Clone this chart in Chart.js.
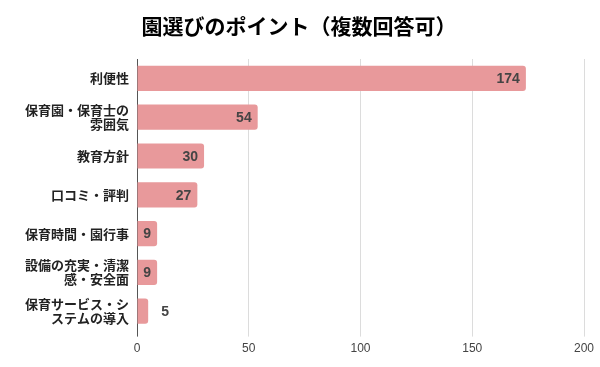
<!DOCTYPE html>
<html><head><meta charset="utf-8">
<script src="https://cdn.jsdelivr.net/npm/chart.js@4/dist/chart.umd.min.js"></script>
<style>html,body{margin:0;padding:0;background:#fff}canvas{display:block}</style>
</head><body>
<canvas id="c" width="600" height="367"></canvas>
<script>
const TITLE = '園選びのポイント（複数回答可）';
const categories = [
  '利便性',
  ['保育園・保育士の', '雰囲気'],
  '教育方針',
  '口コミ・評判',
  '保育時間・園行事',
  ['設備の充実・清潔', '感・安全面'],
  ['保育サービス・シ', 'ステムの導入']
];
const values = [174, 54, 30, 27, 9, 9, 5];
const xTicks = [0, 50, 100, 150, 200];

const CJK = '"Noto Sans CJK JP", "Noto Sans", sans-serif';
const LAT = '"Liberation Sans", Arial, sans-serif';

const titlePlugin = {
  id: 'titleText',
  afterDraw(chart) {
    const ctx = chart.ctx;
    ctx.save();
    ctx.font = 'bold 21px ' + CJK;
    ctx.fillStyle = '#000';
    ctx.textAlign = 'center';
    ctx.textBaseline = 'middle';
    ctx.fillText(TITLE, 299, 26);
    ctx.restore();
  }
};

const labelPlugin = {
  id: 'barLabels',
  afterDatasetsDraw(chart) {
    const ctx = chart.ctx;
    const meta = chart.getDatasetMeta(0);
    ctx.save();
    ctx.font = 'bold 14px ' + LAT;
    ctx.fillStyle = '#444';
    ctx.textBaseline = 'middle';
    meta.data.forEach((bar, i) => {
      const v = values[i];
      const txt = String(v);
      if (v >= 7) {
        ctx.textAlign = 'right';
        ctx.fillText(txt, bar.x - 6, bar.y + 1);
      } else {
        ctx.textAlign = 'left';
        ctx.fillText(txt, bar.x + 13, bar.y + 1);
      }
    });
    ctx.restore();
  }
};

new Chart(document.getElementById('c'), {
  type: 'bar',
  data: {
    labels: categories,
    datasets: [{
      data: values,
      backgroundColor: 'rgb(232,153,155)',
      borderRadius: 3,
      borderSkipped: 'start',
      barPercentage: 0.65,
      categoryPercentage: 1.0
    }]
  },
  options: {
    indexAxis: 'y',
    responsive: false,
    animation: false,
    layout: { padding: { top: 59, right: 16, bottom: 6, left: 0 } },
    plugins: { legend: { display: false }, title: { display: false }, tooltip: { enabled: false } },
    scales: {
      x: {
        min: 0, max: 200,
        afterBuildTicks(scale) { scale.ticks = xTicks.map(v => ({ value: v })); },
        grid: {
          color: ctx => ctx.tick && ctx.tick.value === 0 ? '#555' : '#dcdcdc',
          tickLength: 6,
          drawTicks: true
        },
        border: { display: false },
        ticks: { color: '#444', font: { family: LAT, size: 12 }, padding: 5 }
      },
      y: {
        grid: { display: false, drawTicks: false, tickLength: 0 },
        border: { display: false },
        afterFit(scale) { scale.width = 137; },
        ticks: { color: '#222', font: { family: CJK, size: 13, weight: 'bold', lineHeight: 1.1 }, padding: 8 }
      }
    }
  },
  plugins: [titlePlugin, labelPlugin]
});
</script>
</body></html>
